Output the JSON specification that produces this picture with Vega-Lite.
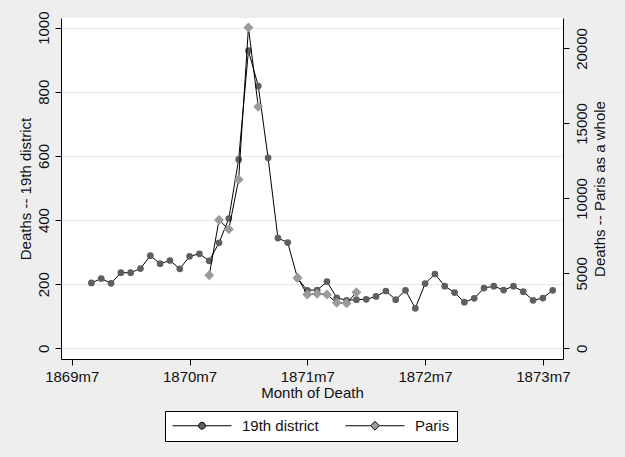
{
  "$schema": "https://vega.github.io/schema/vega-lite/v6.json",
  "width": 502,
  "height": 341,
  "autosize": {"type": "none"},
  "padding": {"left": 61, "top": 18, "right": 62, "bottom": 98},
  "background": "#EEEEEE",
  "config": {
    "view": {"fill": "white", "stroke": null},
    "font": "Liberation Sans",
    "axis": {
      "domainColor": "black",
      "domainWidth": 1,
      "tickColor": "black",
      "tickWidth": 1,
      "tickSize": 6,
      "labelColor": "#111111",
      "titleColor": "#111111",
      "labelFont": "Liberation Sans",
      "titleFont": "Liberation Sans",
      "labelFontSize": 15,
      "titleFontSize": 15,
      "titleFontWeight": "normal"
    },
    "legend": {
      "orient": "none",
      "legendX": 104,
      "legendY": 393,
      "direction": "horizontal",
      "fillColor": "white",
      "strokeColor": "black",
      "padding": 7,
      "symbolSize": 3481,
      "symbolStrokeWidth": 1,
      "symbolStrokeColor": "black",
      "symbolOffset": 0,
      "clipHeight": 15,
      "labelOffset": 10,
      "columnPadding": 26,
      "labelFont": "Liberation Sans",
      "labelFontSize": 15,
      "labelColor": "#111111"
    }
  },
  "data": {
    "values": [
      {"month": "1869m9", "t": 8, "d19": 204, "paris": null},
      {"month": "1869m10", "t": 9, "d19": 218, "paris": null},
      {"month": "1869m11", "t": 10, "d19": 203, "paris": null},
      {"month": "1869m12", "t": 11, "d19": 236, "paris": null},
      {"month": "1870m1", "t": 12, "d19": 236, "paris": null},
      {"month": "1870m2", "t": 13, "d19": 249, "paris": null},
      {"month": "1870m3", "t": 14, "d19": 289, "paris": null},
      {"month": "1870m4", "t": 15, "d19": 264, "paris": null},
      {"month": "1870m5", "t": 16, "d19": 274, "paris": null},
      {"month": "1870m6", "t": 17, "d19": 248, "paris": null},
      {"month": "1870m7", "t": 18, "d19": 287, "paris": null},
      {"month": "1870m8", "t": 19, "d19": 295, "paris": null},
      {"month": "1870m9", "t": 20, "d19": 273, "paris": 4867},
      {"month": "1870m10", "t": 21, "d19": 329, "paris": 8553},
      {"month": "1870m11", "t": 22, "d19": 405, "paris": 7933},
      {"month": "1870m12", "t": 23, "d19": 589, "paris": 11267},
      {"month": "1871m1", "t": 24, "d19": 928, "paris": 21400},
      {"month": "1871m2", "t": 25, "d19": 818, "paris": 16107},
      {"month": "1871m3", "t": 26, "d19": 594, "paris": null},
      {"month": "1871m4", "t": 27, "d19": 344, "paris": null},
      {"month": "1871m5", "t": 28, "d19": 330, "paris": null},
      {"month": "1871m6", "t": 29, "d19": 219, "paris": 4707},
      {"month": "1871m7", "t": 30, "d19": 181, "paris": 3587},
      {"month": "1871m8", "t": 31, "d19": 182, "paris": 3633},
      {"month": "1871m9", "t": 32, "d19": 208, "paris": 3587},
      {"month": "1871m10", "t": 33, "d19": 158, "paris": 3040},
      {"month": "1871m11", "t": 34, "d19": 150, "paris": 3000},
      {"month": "1871m12", "t": 35, "d19": 152, "paris": 3733},
      {"month": "1872m1", "t": 36, "d19": 153, "paris": null},
      {"month": "1872m2", "t": 37, "d19": 162, "paris": null},
      {"month": "1872m3", "t": 38, "d19": 179, "paris": null},
      {"month": "1872m4", "t": 39, "d19": 152, "paris": null},
      {"month": "1872m5", "t": 40, "d19": 181, "paris": null},
      {"month": "1872m6", "t": 41, "d19": 125, "paris": null},
      {"month": "1872m7", "t": 42, "d19": 202, "paris": null},
      {"month": "1872m8", "t": 43, "d19": 232, "paris": null},
      {"month": "1872m9", "t": 44, "d19": 194, "paris": null},
      {"month": "1872m10", "t": 45, "d19": 174, "paris": null},
      {"month": "1872m11", "t": 46, "d19": 144, "paris": null},
      {"month": "1872m12", "t": 47, "d19": 156, "paris": null},
      {"month": "1873m1", "t": 48, "d19": 188, "paris": null},
      {"month": "1873m2", "t": 49, "d19": 194, "paris": null},
      {"month": "1873m3", "t": 50, "d19": 182, "paris": null},
      {"month": "1873m4", "t": 51, "d19": 194, "paris": null},
      {"month": "1873m5", "t": 52, "d19": 177, "paris": null},
      {"month": "1873m6", "t": 53, "d19": 150, "paris": null},
      {"month": "1873m7", "t": 54, "d19": 157, "paris": null},
      {"month": "1873m8", "t": 55, "d19": 181, "paris": null}
    ]
  },
  "encoding": {
    "x": {
      "field": "t",
      "type": "quantitative",
      "scale": {"domain": [4.9, 56.05], "nice": false, "zero": false},
      "axis": {
        "values": [6, 18, 30, 42, 54],
        "labelExpr": "(floor(datum.value / 12) + 1869) + 'm' + (datum.value % 12 + 1)",
        "title": "Month of Death",
        "grid": false,
        "labelPadding": 4,
        "titlePadding": 1
      }
    }
  },
  "layer": [
    {
      "encoding": {
        "y": {
          "field": "d19",
          "type": "quantitative",
          "scale": {"domain": [-33, 1030], "nice": false, "zero": false},
          "axis": {
            "orient": "left",
            "values": [0, 200, 400, 600, 800, 1000],
            "format": "d",
            "title": "Deaths -- 19th district",
            "grid": true,
            "gridColor": "#e6e6e6",
            "gridWidth": 1,
            "labelAngle": 270,
            "labelAlign": "center",
            "labelBaseline": "bottom",
            "labelPadding": 4,
            "titlePadding": 3
          }
        }
      },
      "layer": [
        {
          "mark": {"type": "line", "color": "black", "strokeWidth": 1}
        },
        {
          "mark": {"type": "point", "shape": "circle", "filled": true, "size": 45, "opacity": 1, "fill": "#5f5f5f"}
        },
        {
          "transform": [{"filter": "false"}],
          "mark": {"type": "point", "filled": true, "size": 3481, "opacity": 1, "strokeWidth": 1},
          "encoding": {
            "fill": {
              "datum": "19th district",
              "type": "nominal",
              "scale": {"domain": ["19th district", "Paris"], "range": ["#5f5f5f", "#9b9b9b"]},
              "legend": {"title": null}
            },
            "stroke": {
              "datum": "19th district",
              "type": "nominal",
              "scale": {"domain": ["19th district", "Paris"], "range": ["black", "black"]},
              "legend": {"title": null}
            },
            "shape": {
              "datum": "19th district",
              "type": "nominal",
              "scale": {
                "domain": ["19th district", "Paris"],
                "range": [
                  "M-1,0H-0.115M0.115,0H1M0.115,0A0.115,0.115,0,1,1,-0.115,0A0.115,0.115,0,1,1,0.115,0Z",
                  "M-1,0H-0.15M0.15,0H1M0,-0.15L0.15,0L0,0.15L-0.15,0Z"
                ]
              },
              "legend": {"title": null}
            }
          }
        }
      ]
    },
    {
      "encoding": {
        "y": {
          "field": "paris",
          "type": "quantitative",
          "scale": {"domain": [-714, 22033], "nice": false, "zero": false},
          "axis": {
            "orient": "right",
            "values": [0, 5000, 10000, 15000, 20000],
            "format": "d",
            "title": "Deaths -- Paris as a whole",
            "grid": false,
            "labelAngle": 270,
            "labelAlign": "center",
            "labelBaseline": "top",
            "labelPadding": 5,
            "titleAngle": 270,
            "titleBaseline": "top",
            "titlePadding": 3
          }
        }
      },
      "layer": [
        {
          "mark": {"type": "line", "color": "black", "strokeWidth": 1}
        },
        {
          "mark": {"type": "point", "shape": "diamond", "filled": true, "size": 100, "opacity": 1, "fill": "#9b9b9b"}
        }
      ]
    }
  ],
  "resolve": {"scale": {"y": "independent"}}
}
